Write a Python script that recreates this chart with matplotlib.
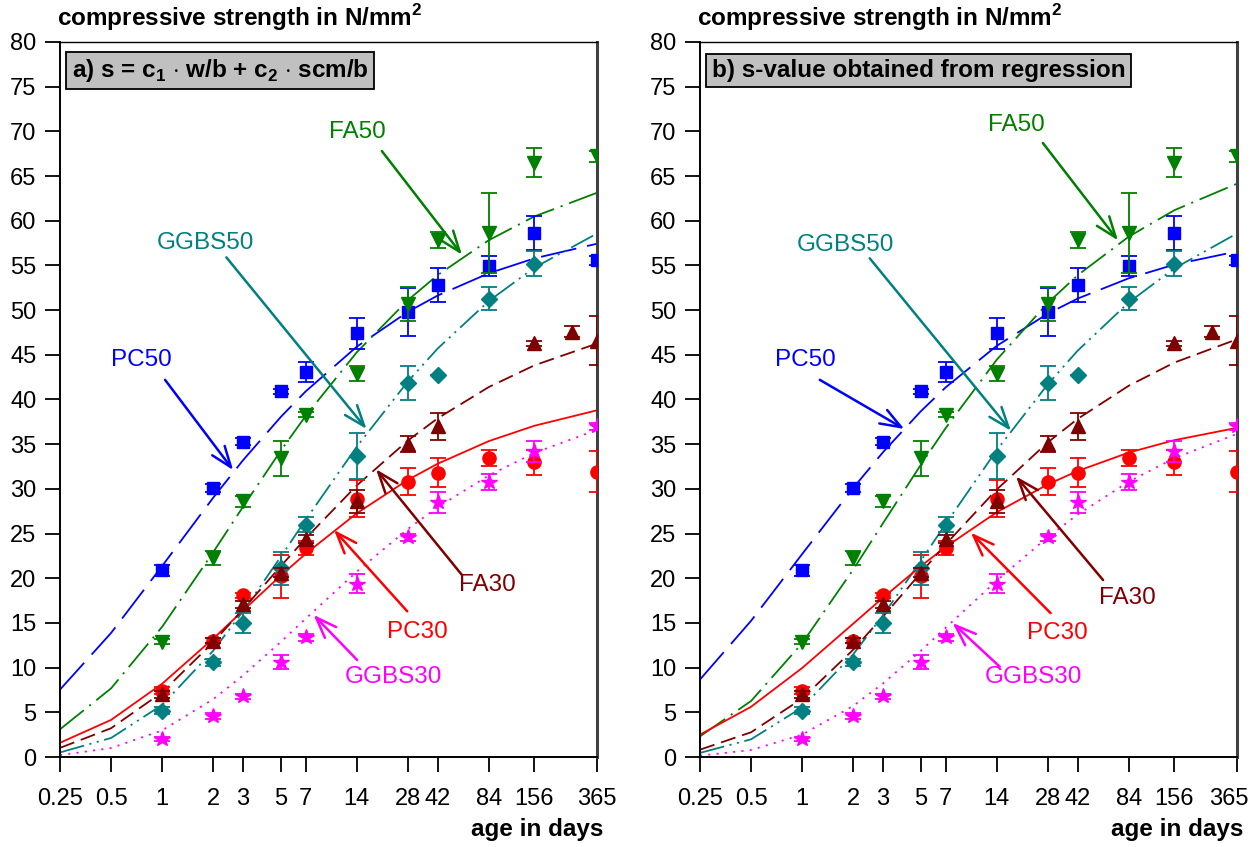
import matplotlib
matplotlib.use('Agg')
import matplotlib.pyplot as plt
import matplotlib.transforms as mtransforms
from matplotlib.ticker import FixedLocator, NullLocator, FixedFormatter

plt.rcParams['font.family'] = ['Liberation Sans', 'DejaVu Sans']
plt.rcParams['mathtext.fontset'] = 'custom'
plt.rcParams['mathtext.rm'] = 'Liberation Sans'
plt.rcParams['mathtext.bf'] = 'Liberation Sans:bold'
plt.rcParams['lines.scale_dashes'] = False

# ---------------- data ----------------
tick_ages = [0.25, 0.5, 1, 2, 3, 5, 7, 14, 28, 42, 84, 156, 365]
tick_labels = ['0.25', '0.5', '1', '2', '3', '5', '7', '14', '28', '42', '84', '156', '365']
y_ticks = list(range(0, 81, 5))

pc50_age = [1, 2, 3, 5, 7, 14, 28, 42, 84, 156, 365]
pc50_val = [20.9, 30.1, 35.3, 40.9, 43.1, 47.4, 49.8, 52.8, 54.9, 58.6, 55.6]
pc50_err = [0.6, 0.5, 0.4, 0.3, 1.1, 1.7, 2.7, 1.9, 1.1, 1.9, 0.5]

fa50_age = [1, 2, 3, 5, 7, 14, 28, 42, 84, 156, 365]
fa50_val = [12.9, 22.3, 28.6, 33.4, 38.3, 42.9, 50.7, 57.8, 58.6, 66.5, 67.2]
fa50_err = [0.3, 0.8, 0.6, 2.0, 0.3, 0.8, 1.9, 0.9, 4.5, 1.6, 0.6]

ggbs50_age = [1, 2, 3, 5, 7, 14, 28, 42, 84, 156]
ggbs50_val = [5.2, 10.6, 15.0, 21.1, 26.0, 33.7, 41.8, 42.7, 51.3, 55.2]
ggbs50_err = [0.4, 0.4, 1.1, 1.8, 0.8, 2.6, 1.9, 0.0, 1.3, 1.4]

pc30_age = [1, 2, 3, 5, 7, 14, 28, 42, 84, 156, 365]
pc30_val = [7.4, 13.0, 18.1, 20.2, 23.4, 28.9, 30.8, 31.8, 33.5, 33.0, 31.9]
pc30_err = [0.4, 0.3, 0.3, 2.4, 0.8, 2.1, 1.5, 1.6, 0.9, 1.4, 2.3]

fa30_age = [1, 2, 3, 5, 7, 14, 28, 42, 156, 260, 365]
fa30_val = [7.0, 13.0, 17.1, 20.6, 24.4, 28.6, 35.0, 37.0, 46.3, 47.6, 46.6]
fa30_err = [0.4, 0.3, 0.4, 0.5, 0.4, 1.3, 0.9, 1.5, 0.3, 0.6, 2.7]

ggbs30_age = [1, 2, 3, 5, 7, 14, 28, 42, 84, 156, 365]
ggbs30_val = [2.0, 4.6, 6.8, 10.6, 13.4, 19.4, 24.6, 28.5, 30.8, 34.2, 37.0]
ggbs30_err = [0.2, 0.3, 0.3, 0.8, 0.4, 1.1, 0.4, 1.2, 0.9, 1.2, 0.4]

# fitted curves read at the tick ages
curve_age = tick_ages
pc50_fit_a = [7.54, 13.88, 21.38, 29.02, 33.22, 38.05, 40.90, 45.90, 49.80, 51.63, 54.12, 55.79, 57.43]
fa50_fit_a = [3.10, 7.68, 14.57, 22.92, 28.02, 34.27, 38.15, 45.27, 51.10, 53.92, 57.82, 60.48, 63.13]
ggbs50_fit_a = [0.51, 2.13, 5.83, 11.90, 16.32, 22.40, 26.52, 34.71, 42.00, 45.70, 51.01, 54.75, 58.57]
pc30_fit_a = [1.59, 4.15, 8.20, 13.25, 16.39, 20.30, 22.73, 27.26, 31.00, 32.81, 35.34, 37.06, 38.79]
fa30_fit_a = [1.02, 3.22, 7.24, 12.84, 16.55, 21.35, 24.45, 30.37, 35.40, 37.89, 41.39, 43.82, 46.26]
ggbs30_fit_a = [0.21, 1.00, 2.98, 6.47, 9.13, 12.88, 15.47, 20.73, 25.50, 27.95, 31.50, 34.02, 36.61]

pc50_fit_b = [8.67, 15.24, 22.71, 30.11, 34.12, 38.68, 41.35, 46.00, 49.60, 51.29, 53.56, 55.09, 56.57]
fa50_fit_b = [2.31, 6.27, 12.73, 20.98, 26.18, 32.69, 36.79, 44.44, 50.80, 53.90, 58.22, 61.18, 64.15]
ggbs50_fit_b = [0.46, 1.98, 5.55, 11.50, 15.87, 21.94, 26.06, 34.32, 41.70, 45.46, 50.86, 54.67, 58.58]
pc30_fit_b = [2.50, 5.62, 9.96, 14.92, 17.84, 21.35, 23.50, 27.38, 30.50, 32.00, 34.06, 35.45, 36.83]
fa30_fit_b = [0.82, 2.77, 6.54, 12.01, 15.72, 20.60, 23.78, 29.92, 35.20, 37.83, 41.54, 44.13, 46.74]
ggbs30_fit_b = [0.15, 0.78, 2.50, 5.72, 8.24, 11.88, 14.45, 19.73, 24.60, 27.12, 30.81, 33.43, 36.15]

# ---------------- styles ----------------
colors = {'PC50': '#0000FF', 'FA50': '#008000', 'GGBS50': '#008080',
          'PC30': '#FF0000', 'FA30': '#800000', 'GGBS30': '#FF00FF'}
markers = {'PC50': ('s', 8.5), 'FA50': ('v', 9.5), 'GGBS50': ('D', 8.0),
           'PC30': ('o', 9.5), 'FA30': ('^', 9.5), 'GGBS30': ('*', 11.5)}
linestyles = {'PC50': (0, (26, 8)), 'FA50': (0, (22, 5, 1.5, 5)),
              'GGBS50': (0, (18, 4, 1.5, 4, 1.5, 4)), 'PC30': '-',
              'FA30': (0, (11, 5)), 'GGBS30': (0, (1.5, 4.5))}

points = {'PC50': (pc50_age, pc50_val, pc50_err), 'FA50': (fa50_age, fa50_val, fa50_err),
          'GGBS50': (ggbs50_age, ggbs50_val, ggbs50_err), 'PC30': (pc30_age, pc30_val, pc30_err),
          'FA30': (fa30_age, fa30_val, fa30_err), 'GGBS30': (ggbs30_age, ggbs30_val, ggbs30_err)}
fits_a = {'PC50': pc50_fit_a, 'FA50': fa50_fit_a, 'GGBS50': ggbs50_fit_a,
          'PC30': pc30_fit_a, 'FA30': fa30_fit_a, 'GGBS30': ggbs30_fit_a}
fits_b = {'PC50': pc50_fit_b, 'FA50': fa50_fit_b, 'GGBS50': ggbs50_fit_b,
          'PC30': pc30_fit_b, 'FA30': fa30_fit_b, 'GGBS30': ggbs30_fit_b}

# annotation layout: label centre, arrow start, arrow tip (in data coords)
annot_a = {'FA50': ((14.1, 69.9), (19.7, 67.8), (58.4, 56.2)),
           'GGBS50': ((1.81, 57.5), (2.39, 55.9), (16.0, 36.7)),
           'PC50': ((0.755, 44.4), (1.04, 42.2), (2.62, 32.1)),
           'FA30': ((82, 19.2), (58.2, 20.4), (18.2, 32.2)),
           'PC30': ((31.8, 14.0), (27.8, 16.3), (10.3, 25.4)),
           'GGBS30': ((22.9, 9.0), (14.1, 10.85), (7.8, 15.9))}
annot_b = {'FA50': ((18.2, 70.7), (26.2, 68.7), (72.6, 57.8)),
           'GGBS50': ((1.81, 57.3), (2.5, 55.8), (17.0, 36.5)),
           'PC50': ((1.04, 44.4), (1.27, 42.2), (4.0, 36.7)),
           'FA30': ((82, 17.8), (59.3, 19.8), (18.2, 31.4)),
           'PC30': ((31.8, 13.9), (29.1, 16.1), (9.86, 25.1)),
           'GGBS30': ((22.9, 9.0), (14.6, 10.1), (7.7, 15.0))}

FS = 17.5
TFS = 17
W, H = 1251, 847
fig = plt.figure(figsize=(W / 100, H / 100), dpi=100)


def make_panel(left_px, title, fits, annots, shift_last=0):
    ax = fig.add_axes([left_px / W, (H - 757) / H, 537 / W, 715 / H])
    ax.set_xscale('log')
    ax.set_xlim(0.25, 365)
    ax.set_ylim(0, 80)
    ax.xaxis.set_major_locator(FixedLocator(tick_ages))
    ax.xaxis.set_major_formatter(FixedFormatter(tick_labels))
    ax.xaxis.set_minor_locator(NullLocator())
    ax.set_yticks(y_ticks)
    ax.tick_params(axis='both', direction='out', length=11, width=1.3, labelsize=TFS)
    ax.tick_params(axis='x', pad=11)
    ax.tick_params(axis='y', pad=6)
    for s in ['left', 'bottom']:
        ax.spines[s].set_linewidth(1.4)
    ax.spines['top'].set_linewidth(1.0)
    ax.spines['right'].set_linewidth(2.2)
    ax.spines['right'].set_color('#404040')

    for name in ['PC50', 'FA50', 'GGBS50', 'PC30', 'FA30', 'GGBS30']:
        c = colors[name]
        ax.plot(curve_age, fits[name], color=c, lw=1.3, linestyle=linestyles[name], zorder=2)
    for i, name in enumerate(['PC50', 'FA50', 'PC30', 'GGBS50', 'FA30', 'GGBS30']):
        c = colors[name]
        a, v, e = points[name]
        m, ms = markers[name]
        ax.errorbar(a, v, yerr=e, fmt=m, ms=ms, color=c, mec=c, mfc=c,
                    ecolor=c, elinewidth=1.3, capsize=5.5, capthick=1.3, zorder=3 + i)
    for name, (tpos, start, tip) in annots.items():
        c = colors[name]
        ax.annotate('', xy=tip, xytext=start,
                    arrowprops=dict(arrowstyle='->,head_length=0.75,head_width=0.28',
                                    color=c, lw=1.8, shrinkA=0, shrinkB=0,
                                    mutation_scale=20), zorder=10)
        ax.text(tpos[0], tpos[1], name, color=c, fontsize=FS, ha='center', va='center', zorder=10)

    ax.text(0.022, 0.960, title, transform=ax.transAxes, fontsize=FS, fontweight='bold',
            ha='left', va='center', zorder=12,
            bbox=dict(boxstyle='square,pad=0.22', fc='#C0C0C0', ec='black', lw=1.3))
    ax.text(-0.006, 1.034, r'compressive strength in N/mm$^\mathbf{2}$', transform=ax.transAxes,
            fontsize=FS, fontweight='bold', ha='left', va='center')
    ax.text(1.012, -0.102, 'age in days', transform=ax.transAxes,
            fontsize=FS, fontweight='bold', ha='right', va='center')
    if shift_last:
        lbl = ax.get_xticklabels()[-1]
        lbl.set_transform(lbl.get_transform() +
                          mtransforms.ScaledTranslation(shift_last / 100, 0, fig.dpi_scale_trans))
    return ax


make_panel(60, r'a) s = c$_\mathbf{1}$ $\cdot$ w/b + c$_\mathbf{2}$ $\cdot$ scm/b', fits_a, annot_a)
make_panel(700, 'b) s-value obtained from regression', fits_b, annot_b, shift_last=-8)

fig.savefig('out.png', dpi=100)
